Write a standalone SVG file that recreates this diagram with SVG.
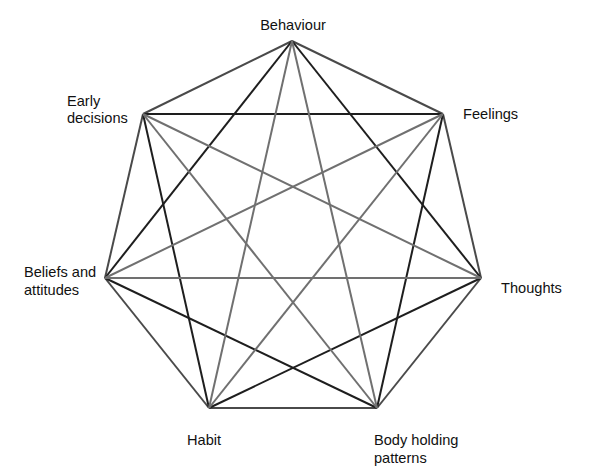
<svg xmlns="http://www.w3.org/2000/svg" width="592" height="467" viewBox="0 0 592 467">
<style>
.s1{stroke:#4a4a4a;stroke-width:2;fill:none}
.s2{stroke:#1e1e1e;stroke-width:2;fill:none}
.s3{stroke:#707070;stroke-width:2;fill:none}
text{font-family:"Liberation Sans",Arial,sans-serif;font-size:14.6px;fill:#111}
</style>
<rect width="592" height="467" fill="#fff"/>
<g id="connectors">
<line class="s1" x1="292" y1="41" x2="443" y2="114"/>
<line class="s1" x1="443" y1="114" x2="481" y2="278"/>
<line class="s1" x1="481" y1="278" x2="377" y2="408"/>
<line class="s1" x1="377" y1="408" x2="209" y2="408"/>
<line class="s1" x1="209" y1="408" x2="105" y2="278"/>
<line class="s1" x1="105" y1="278" x2="143" y2="114"/>
<line class="s1" x1="143" y1="114" x2="292" y2="41"/>
<line class="s2" x1="292" y1="41" x2="481" y2="278"/>
<line class="s2" x1="443" y1="114" x2="377" y2="408"/>
<line class="s2" x1="481" y1="278" x2="209" y2="408"/>
<line class="s2" x1="377" y1="408" x2="105" y2="278"/>
<line class="s2" x1="209" y1="408" x2="143" y2="114"/>
<line class="s2" x1="105" y1="278" x2="292" y2="41"/>
<line class="s2" x1="143" y1="114" x2="443" y2="114"/>
<line class="s3" x1="292" y1="41" x2="377" y2="408"/>
<line class="s3" x1="292" y1="41" x2="209" y2="408"/>
<line class="s3" x1="443" y1="114" x2="209" y2="408"/>
<line class="s3" x1="443" y1="114" x2="105" y2="278"/>
<line class="s3" x1="481" y1="278" x2="105" y2="278"/>
<line class="s3" x1="481" y1="278" x2="143" y2="114"/>
<line class="s3" x1="377" y1="408" x2="143" y2="114"/>
</g>
<g id="behaviour"><text x="293" y="30" text-anchor="middle">Behaviour</text></g>
<g id="feelings"><text x="463" y="119">Feelings</text></g>
<g id="thoughts"><text x="501" y="293">Thoughts</text></g>
<g id="body"><text x="374" y="445">Body holding</text><text x="374" y="463">patterns</text></g>
<g id="habit"><text x="187" y="445">Habit</text></g>
<g id="beliefs"><text x="24" y="277">Beliefs and</text><text x="24" y="295">attitudes</text></g>
<g id="early"><text x="67" y="106">Early</text><text x="67" y="123">decisions</text></g>
</svg>
